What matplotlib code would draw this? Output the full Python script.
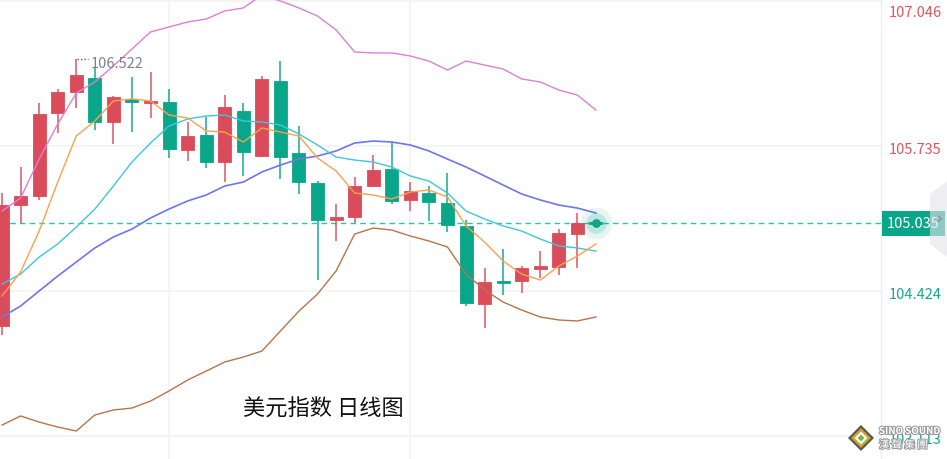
import matplotlib
matplotlib.use("Agg")
import matplotlib.pyplot as plt
from matplotlib.patches import Polygon
import matplotlib.patheffects as pe

plt.rcParams['font.family'] = ['Noto Sans CJK SC', 'DejaVu Sans']

# daily OHLC, index 0..32 (last one is the forming candle)
opens  = [104.107, 105.202, 105.283, 106.033, 106.223, 106.350, 105.952, 106.160, 106.124, 106.133,
          105.699, 105.834, 105.590, 106.051, 105.645, 106.323, 105.672, 105.400, 105.066, 105.093,
          105.373, 105.527, 105.247, 105.310, 105.220, 105.012, 104.306, 104.514, 104.514, 104.623,
          104.641, 104.939, 105.040]
highs  = [105.310, 105.545, 106.124, 106.250, 106.522, 106.449, 106.187, 106.359, 106.404, 106.250,
          105.952, 105.997, 106.196, 106.124, 106.368, 106.504, 105.916, 105.419, 105.211, 105.455,
          105.654, 105.771, 105.409, 105.373, 105.491, 105.066, 104.632, 104.804, 104.650, 104.786,
          104.985, 105.129, 105.046]
lows   = [104.026, 105.039, 105.247, 105.853, 106.079, 105.880, 105.753, 105.862, 105.988, 105.626,
          105.599, 105.536, 105.409, 105.464, 105.636, 105.437, 105.301, 104.523, 104.876, 105.039,
          105.364, 105.211, 105.147, 105.057, 104.957, 104.288, 104.089, 104.388, 104.406, 104.541,
          104.569, 104.632, 105.027]
closes = [105.202, 105.283, 106.024, 106.223, 106.377, 105.952, 106.178, 106.133, 106.142, 105.708,
          105.825, 105.590, 106.088, 105.681, 106.341, 105.636, 105.409, 105.066, 105.093, 105.373,
          105.518, 105.238, 105.328, 105.229, 105.021, 104.315, 104.505, 104.496, 104.632, 104.650,
          104.948, 105.039, 105.035]

ma5  = [104.379, 104.596, 104.966, 105.409, 105.825, 105.961, 106.142, 106.160, 106.142, 106.015,
        105.988, 105.871, 105.861, 105.771, 105.898, 105.861, 105.825, 105.626, 105.509, 105.310,
        105.292, 105.256, 105.319, 105.337, 105.274, 105.012, 104.867, 104.695, 104.577, 104.523,
        104.650, 104.740, 104.849]
ma10 = [104.487, 104.577, 104.731, 104.849, 105.002, 105.165, 105.373, 105.590, 105.762, 105.916,
        105.979, 106.006, 106.015, 105.961, 105.952, 105.925, 105.843, 105.744, 105.635, 105.608,
        105.590, 105.545, 105.464, 105.418, 105.310, 105.147, 105.075, 105.012, 104.966, 104.894,
        104.831, 104.813, 104.785]
ma20 = [104.189, 104.288, 104.424, 104.559, 104.686, 104.813, 104.912, 104.984, 105.084, 105.165,
        105.238, 105.292, 105.373, 105.409, 105.500, 105.563, 105.617, 105.644, 105.690, 105.762,
        105.780, 105.771, 105.744, 105.690, 105.617, 105.545, 105.464, 105.382, 105.301, 105.247,
        105.201, 105.174, 105.129]
boll_up = [105.147, 105.265, 105.617, 105.934, 106.214, 106.314, 106.458, 106.612, 106.766, 106.811,
           106.856, 106.883, 106.956, 106.983, 107.100, 107.046, 106.983, 106.910, 106.784, 106.585,
           106.576, 106.576, 106.549, 106.503, 106.422, 106.503, 106.467, 106.431, 106.341, 106.314,
           106.241, 106.196, 106.060]
boll_dn = [103.212, 103.294, 103.239, 103.194, 103.158, 103.303, 103.348, 103.366, 103.429, 103.520,
           103.619, 103.700, 103.782, 103.827, 103.881, 104.062, 104.243, 104.397, 104.605, 104.939,
           104.993, 104.975, 104.921, 104.876, 104.822, 104.577, 104.433, 104.324, 104.252, 104.189,
           104.162, 104.153, 104.189]

grid_levels = [107.046, 105.735, 104.424, 103.113]
level_colors = ['#e05563', '#e05563', '#16a98c', '#16a98c']
last_price = 105.035
high_label = '106.522'
title = '美元指数 日线图'

RED = '#db4c5b'
GREEN = '#0aa68a'

fig = plt.figure(figsize=(9.47, 4.6), dpi=100)
fig.patch.set_facecolor('white')
ax = fig.add_axes([0, 0, 881 / 947, 1])
ax.set_xlim(-0.11, 47.36)
ax.set_ylim(102.905, 107.064)

# grid
ax.set_yticks(grid_levels)
ax.set_xticks([9, 22])
ax.grid(True, color='#f3f3f5', lw=1.2)
ax.tick_params(left=False, bottom=False, labelleft=False, labelbottom=False)
for s in ['left', 'top', 'bottom']:
    ax.spines[s].set_visible(False)
ax.spines['right'].set_color('#ececef')
ax.set_axisbelow(True)

# candles
xs = list(range(len(opens)))
for i in xs:
    o, h, l, c = opens[i], highs[i], lows[i], closes[i]
    col = RED if c > o else GREEN
    ax.vlines(i, l, h, color=col, lw=1.3, alpha=0.8, zorder=2)
    body = max(abs(c - o), 0.022)
    ax.bar(i, body, bottom=min(o, c) if abs(c - o) > 0.022 else (o + c) / 2 - 0.011,
           width=0.7, color=col, edgecolor=col, linewidth=0.6, zorder=3)

# indicator lines
ax.plot(xs, boll_up, color='#dd7fd6', lw=1.0, zorder=4)
ax.plot(xs, boll_dn, color='#b8734c', lw=1.0, zorder=4)
ax.plot(xs, ma20, color='#6f74f2', lw=1.2, zorder=4)
ax.plot(xs, ma10, color='#3ec6df', lw=1.0, zorder=4)
ax.plot(xs, ma5, color='#fba14d', lw=1.0, zorder=4)

# current price line and pulse dot
ax.axhline(last_price, color='#2fc3a6', lw=1.0, ls=(0, (4, 3)), zorder=1)
n = len(opens) - 1
ax.scatter([n], [last_price], s=520, color=GREEN, alpha=0.10, lw=0, zorder=5)
ax.scatter([n], [last_price], s=220, color=GREEN, alpha=0.18, lw=0, zorder=5)
ax.scatter([n], [last_price], s=40, color=GREEN, lw=0, zorder=6)

# highest marker
ax.plot([4.05, 4.65], [highs[4], highs[4]], color='#555a66', lw=1.0, ls=(0, (1, 1.5)), zorder=5)
ax.annotate(high_label, xy=(4, highs[4]), xytext=(14, -4), textcoords='offset pixels',
            ha='left', va='center', fontsize=10.5, color='#7d8290', zorder=6)

# right price labels
for lv, col in zip(grid_levels, level_colors):
    dy = -11 if lv == grid_levels[0] else -3
    ax.annotate(f'{lv:.3f}', xy=(1, lv), xycoords=('axes fraction', 'data'),
                xytext=(8, dy), textcoords='offset pixels', ha='left', va='center',
                fontsize=10.5, color=col, annotation_clip=False)
ax.annotate(f'{last_price:.3f}', xy=(1, last_price), xycoords=('axes fraction', 'data'),
            xytext=(6, 0), textcoords='offset pixels', ha='left', va='center',
            fontsize=10.5, color='white', annotation_clip=False,
            bbox=dict(boxstyle='square,pad=0.35', fc=GREEN, ec='none'))

# collapse tab on the right edge
W, H = 947, 460
tab = [(947, 182), (930, 195), (930, 245), (947, 258)]
fig.patches.append(Polygon([(x / W, 1 - y / H) for x, y in tab], closed=True,
                           transform=fig.transFigure, fc='#e4e4ea', ec='none', alpha=0.6))
fig.text(939 / W, 1 - 219 / H, '›', fontsize=13, color='#8a8a95', ha='center', va='center',
         family='DejaVu Sans')

# title text
fig.text(243 / W, 1 - 409 / H, title, fontsize=16, color='#111111', ha='left', va='center')

# logo
for half, col in [(13, '#5b5650'), (10, '#c9a52c'), (6.5, '#ffffff'), (3.5, '#7cb342')]:
    cx, cy = 861, 439
    pts = [(cx, cy - half), (cx + half, cy), (cx, cy + half), (cx - half, cy)]
    fig.patches.append(Polygon([(x / W, 1 - y / H) for x, y in pts], closed=True,
                               transform=fig.transFigure, fc=col, ec='none'))
stroke = [pe.withStroke(linewidth=1.5, foreground='#9a9a9a')]
fig.text(879 / W, 1 - 432 / H, 'SINO SOUND', fontsize=7, fontweight='bold', color='white',
         ha='left', va='center', path_effects=stroke)
fig.text(879 / W, 1 - 446 / H, '漢 聲 集 團', fontsize=7.5, color='white',
         ha='left', va='center', path_effects=stroke)

fig.savefig('out.png', dpi=100, facecolor='white')
